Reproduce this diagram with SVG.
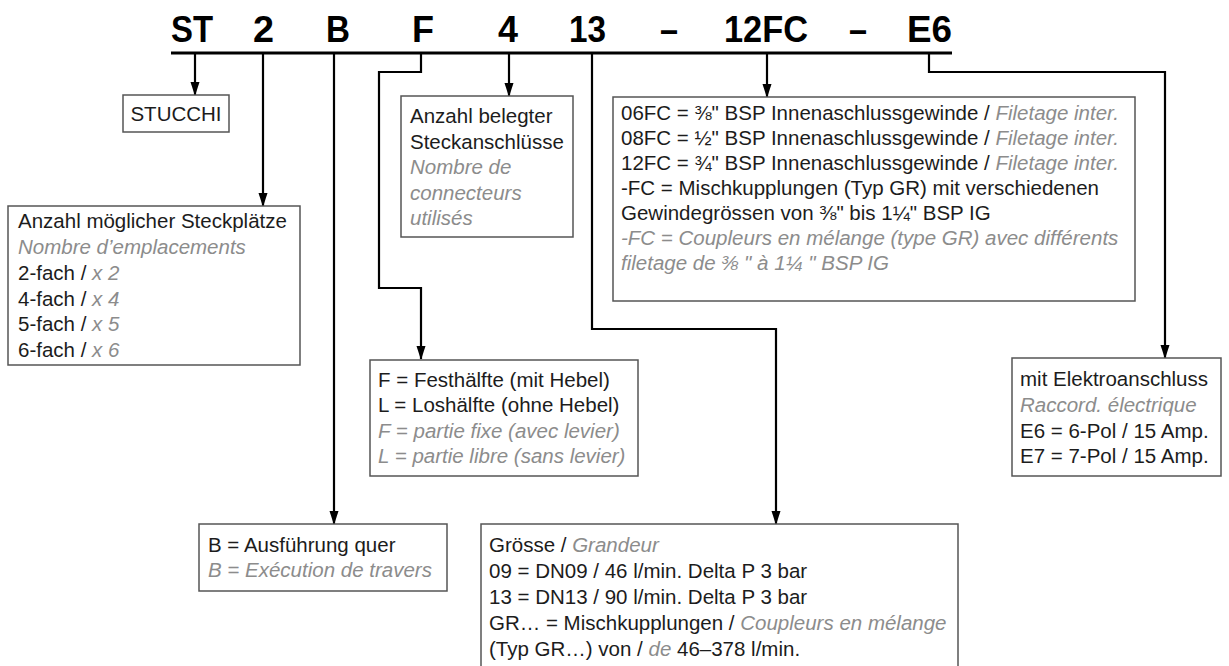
<svg xmlns="http://www.w3.org/2000/svg" width="1229" height="666" viewBox="0 0 1229 666">
<defs>
<marker id="arr" markerUnits="userSpaceOnUse" viewBox="0 0 14 10" markerWidth="14" markerHeight="10" refX="13" refY="5" orient="auto">
<path d="M0,0.5 L14,5 L0,9.5 z" fill="#000"/>
</marker>
<style>
.hdr{font-family:"Liberation Sans",Arial,sans-serif;font-weight:bold;font-size:37px;fill:#000}
.t{font-family:"Liberation Sans",Arial,sans-serif;font-size:20.5px;fill:#1c1c1c}
.g{fill:#8c8c8c;font-style:italic}
.box{fill:#fff;stroke:#555;stroke-width:1.5}
.con{fill:none;stroke:#000;stroke-width:2.2}
</style>
</defs>
<rect width="1229" height="666" fill="#fff"/>
<g id="header">
<text class="hdr" x="171" y="42" textLength="42" lengthAdjust="spacingAndGlyphs">ST</text>
<text class="hdr" x="253" y="42" textLength="21" lengthAdjust="spacingAndGlyphs">2</text>
<text class="hdr" x="326" y="42" textLength="24" lengthAdjust="spacingAndGlyphs">B</text>
<text class="hdr" x="412" y="42" textLength="22" lengthAdjust="spacingAndGlyphs">F</text>
<text class="hdr" x="498" y="42" textLength="20" lengthAdjust="spacingAndGlyphs">4</text>
<text class="hdr" x="569" y="42" textLength="37" lengthAdjust="spacingAndGlyphs">13</text>
<text class="hdr" x="660" y="42" textLength="18" lengthAdjust="spacingAndGlyphs">–</text>
<text class="hdr" x="724" y="42" textLength="84" lengthAdjust="spacingAndGlyphs">12FC</text>
<text class="hdr" x="849" y="42" textLength="18" lengthAdjust="spacingAndGlyphs">–</text>
<text class="hdr" x="907" y="42" textLength="45" lengthAdjust="spacingAndGlyphs">E6</text>
</g>
<g id="connectors">
<line x1="171" y1="53" x2="952" y2="53" stroke="#000" stroke-width="3"/>
<path class="con" d="M195,53 V95" marker-end="url(#arr)"/>
<path class="con" d="M263,53 V206" marker-end="url(#arr)"/>
<path class="con" d="M334,53 V524" marker-end="url(#arr)"/>
<path class="con" d="M421,53 V72 H379 V288 H421 V359" marker-end="url(#arr)"/>
<path class="con" d="M509,53 V96" marker-end="url(#arr)"/>
<path class="con" d="M592,53 V329 H776 V524" marker-end="url(#arr)"/>
<path class="con" d="M767,53 V97" marker-end="url(#arr)"/>
<path class="con" d="M929,53 V72 H1165 V358" marker-end="url(#arr)"/>
</g>
<g id="stucchi">
<rect class="box" x="123" y="95" width="106" height="37"/>
<text class="t" x="176" y="121" text-anchor="middle" font-size="19.5">STUCCHI</text>
</g>
<g id="steckplaetze">
<rect class="box" x="8" y="206" width="292" height="159"/>
<text class="t" x="18" y="228">Anzahl möglicher Steckplätze</text>
<text class="t g" x="18" y="254">Nombre d’emplacements</text>
<text class="t" x="18" y="280">2-fach / <tspan class="g">x 2</tspan></text>
<text class="t" x="18" y="305.5">4-fach / <tspan class="g">x 4</tspan></text>
<text class="t" x="18" y="331">5-fach / <tspan class="g">x 5</tspan></text>
<text class="t" x="18" y="357">6-fach / <tspan class="g">x 6</tspan></text>
</g>
<g id="belegt">
<rect class="box" x="401" y="96" width="172" height="141"/>
<text class="t" x="410" y="123">Anzahl belegter</text>
<text class="t" x="410" y="148.5">Steckanschlüsse</text>
<text class="t g" x="410" y="174">Nombre de</text>
<text class="t g" x="410" y="199.5">connecteurs</text>
<text class="t g" x="410" y="225">utilisés</text>
</g>
<g id="haelfte">
<rect class="box" x="370" y="360" width="268" height="116"/>
<text class="t" x="378" y="386.5">F = Festhälfte (mit Hebel)</text>
<text class="t" x="378" y="412">L = Loshälfte (ohne Hebel)</text>
<text class="t g" x="378" y="437.5">F = partie fixe (avec levier)</text>
<text class="t g" x="378" y="463">L = partie libre (sans levier)</text>
</g>
<g id="ausfuehrung">
<rect class="box" x="199" y="524" width="248" height="67"/>
<text class="t" x="208" y="552">B = Ausführung quer</text>
<text class="t g" x="208" y="577">B = Exécution de travers</text>
</g>
<g id="groesse">
<rect class="box" x="481" y="524" width="477" height="170"/>
<text class="t" x="489" y="552">Grösse / <tspan class="g">Grandeur</tspan></text>
<text class="t" x="489" y="578">09 = DN09 / 46 l/min. Delta P 3 bar</text>
<text class="t" x="489" y="604">13 = DN13 / 90 l/min. Delta P 3 bar</text>
<text class="t" x="489" y="630">GR… = Mischkupplungen / <tspan class="g">Coupleurs en mélange</tspan></text>
<text class="t" x="489" y="656">(Typ GR…) von / <tspan class="g">de</tspan> 46–378 l/min.</text>
</g>
<g id="gewinde">
<rect class="box" x="613" y="97" width="522" height="204"/>
<text class="t" x="621" y="120">06FC = ⅜" BSP Innenaschlussgewinde / <tspan class="g">Filetage inter.</tspan></text>
<text class="t" x="621" y="145">08FC = ½" BSP Innenaschlussgewinde / <tspan class="g">Filetage inter.</tspan></text>
<text class="t" x="621" y="170">12FC = ¾" BSP Innenaschlussgewinde / <tspan class="g">Filetage inter.</tspan></text>
<text class="t" x="621" y="195">-FC = Mischkupplungen (Typ GR) mit verschiedenen</text>
<text class="t" x="621" y="220">Gewindegrössen von ⅜" bis 1¼" BSP IG</text>
<text class="t g" x="621" y="245">-FC = Coupleurs en mélange (type GR) avec différents</text>
<text class="t g" x="621" y="270">filetage de ⅜ " à 1¼ " BSP IG</text>
</g>
<g id="elektro">
<rect class="box" x="1012" y="358" width="209" height="118"/>
<text class="t" x="1020" y="386">mit Elektroanschluss</text>
<text class="t g" x="1020" y="412">Raccord. électrique</text>
<text class="t" x="1020" y="437.5">E6 = 6-Pol / 15 Amp.</text>
<text class="t" x="1020" y="463">E7 = 7-Pol / 15 Amp.</text>
</g>
</svg>
